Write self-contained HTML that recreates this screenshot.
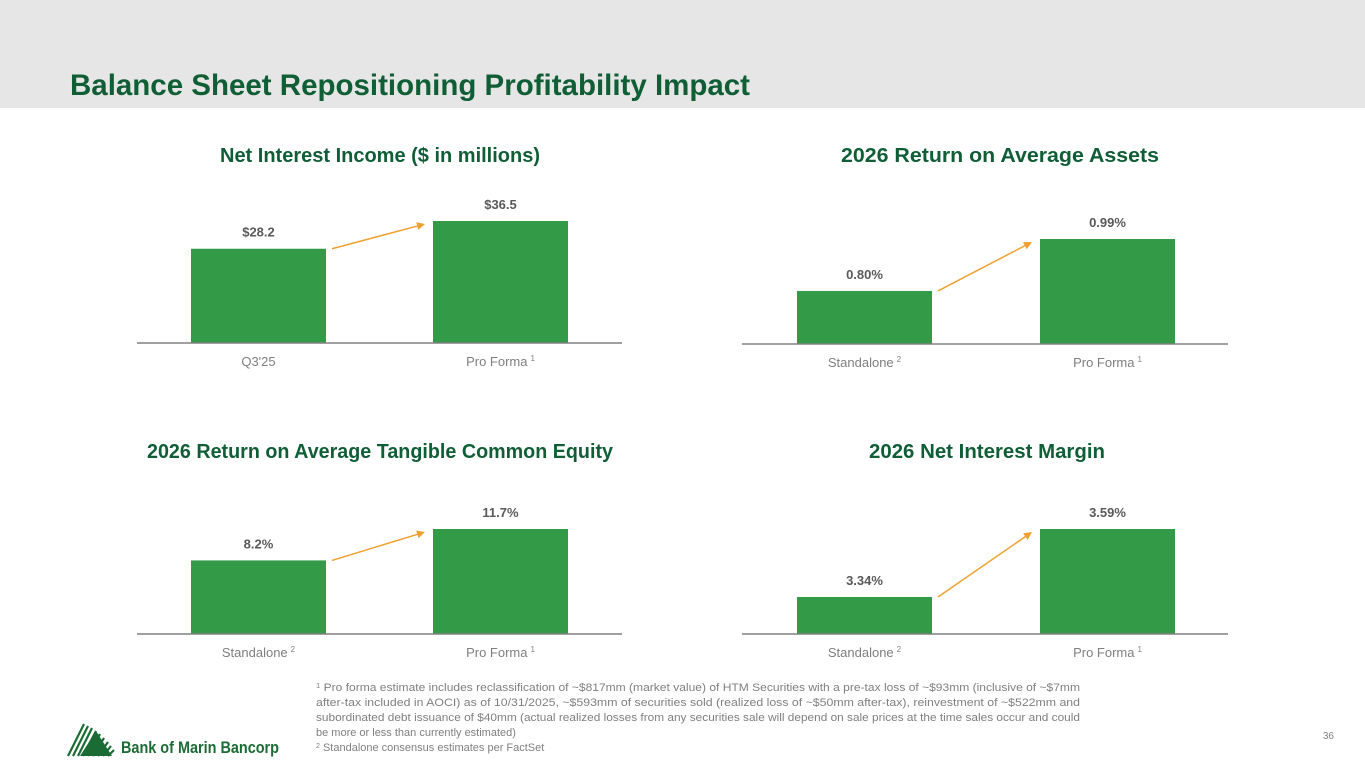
<!DOCTYPE html>
<html><head><meta charset="utf-8"><style>
html,body{margin:0;padding:0;background:#fff;}
svg{display:block;font-family:"Liberation Sans",sans-serif;}
</style></head><body>
<svg id="page" width="1365" height="768" viewBox="0 0 1365 768">
<rect x="0" y="0" width="1365" height="108" fill="#e6e6e6"/>
<text x="70" y="95" font-size="30" font-weight="bold" fill="#0f5e36" textLength="680" lengthAdjust="spacingAndGlyphs">Balance Sheet Repositioning Profitability Impact</text>
<g id="charts"></g>
<g font-size="11" fill="#7f7f7f">
<text x="316" y="691" textLength="764" lengthAdjust="spacingAndGlyphs"><tspan font-size="7" dy="-3">1</tspan><tspan dy="3"> Pro forma estimate includes reclassification of ~$817mm (market value) of HTM Securities with a pre-tax loss of ~$93mm (inclusive of ~$7mm</tspan></text>
<text x="316" y="706" textLength="764" lengthAdjust="spacingAndGlyphs">after-tax included in AOCI) as of 10/31/2025, ~$593mm of securities sold (realized loss of ~$50mm after-tax), reinvestment of ~$522mm and</text>
<text x="316" y="721" textLength="764" lengthAdjust="spacingAndGlyphs">subordinated debt issuance of $40mm (actual realized losses from any securities sale will depend on sale prices at the time sales occur and could</text>
<text x="316" y="736">be more or less than currently estimated)</text>
<text x="316" y="751"><tspan font-size="7" dy="-3">2</tspan><tspan dy="3"> Standalone consensus estimates per FactSet</tspan></text>
</g>
<text x="1334" y="739" font-size="10" fill="#7f7f7f" text-anchor="end">36</text>
<g>
<g stroke="#1b6b35" stroke-width="2.2">
<line x1="68" y1="756" x2="84" y2="724"/><line x1="73" y1="756" x2="88" y2="726"/><line x1="78" y1="756" x2="92" y2="728"/>
<line x1="83" y1="756" x2="96" y2="731"/><line x1="88" y1="756" x2="100" y2="734"/><line x1="93" y1="756" x2="104" y2="738"/>
<line x1="98" y1="756" x2="108" y2="742"/><line x1="103" y1="756" x2="111" y2="746"/><line x1="108" y1="756" x2="114" y2="750"/>
</g>
<polygon points="80,756 96,731 112,756" fill="#1b6b35"/>
<text x="121" y="753" font-size="17" font-weight="bold" fill="#1b6b35" textLength="158" lengthAdjust="spacingAndGlyphs">Bank of Marin Bancorp</text>
</g>
</svg>
<script>
// Chart data
const chartTitles = ["Net Interest Income ($ in millions)", "2026 Return on Average Assets", "2026 Return on Average Tangible Common Equity", "2026 Net Interest Margin"];
const categoriesA = ["Q3'25", "Pro Forma"];
const categoriesB = ["Standalone", "Pro Forma"];
const niiValues = [28.2, 36.5];
const roaaValues = [0.80, 0.99];
const rotceValues = [8.2, 11.7];
const nimValues = [3.34, 3.59];
const niiLabels = ["$28.2", "$36.5"];
const roaaLabels = ["0.80%", "0.99%"];
const rotceLabels = ["8.2%", "11.7%"];
const nimLabels = ["3.34%", "3.59%"];
const superscripts = [["", "1"], ["2", "1"], ["2", "1"], ["2", "1"]];
const axisMins = [0, 0.606, 0, 3.204];

const NS = "http://www.w3.org/2000/svg";
const root = document.getElementById("charts");
function mk(tag, attrs, parent){const e=document.createElementNS(NS,tag);for(const k in attrs)e.setAttribute(k,attrs[k]);parent.appendChild(e);return e;}

const layouts = [
 {cx:380, titleY:162, axisY:343, x0:137, x1:622, bx:[191,433], ty:[370,370], tw:[288,300]},
 {cx:1000, titleY:162, axisY:344, x0:742, x1:1228, bx:[797,1040], ty:[370,370], tw:[288,300]},
 {cx:380, titleY:458, axisY:634, x0:137, x1:622, bx:[191,433], ty:[660,660], tw:[430,300]},
 {cx:987, titleY:458, axisY:634, x0:742, x1:1228, bx:[797,1040], ty:[660,660], tw:[236,300]}
];
const seriesAll = [niiValues, roaaValues, rotceValues, nimValues];
const labelsAll = [niiLabels, roaaLabels, rotceLabels, nimLabels];
const catsAll = [categoriesA, categoriesB, categoriesB, categoriesB];
const titleW = [320, 318, 466, 236];
const maxBarH = 122;

seriesAll.forEach((vals, ci) => {
  const L = layouts[ci];
  const g = mk("g", {}, root);
  
  
  const vmax = Math.max(...vals);
  const bh = (ci===1 || ci===3) ? 105 : (ci===2 ? 105 : maxBarH);
  const yScale = v => L.axisY - (v - axisMins[ci]) / (vmax - axisMins[ci]) * bh;
  const t = mk("text", {x:L.cx, y:L.titleY, "font-size":20, "font-weight":"bold", fill:"#0f5e36", "text-anchor":"middle", textLength:titleW[ci], lengthAdjust:"spacingAndGlyphs"}, g);
  t.textContent = chartTitles[ci];
  
  
  const tops = [];
  vals.forEach((v, i) => {
    const x = L.bx[i], w = 135, y = yScale(v);
    tops.push(y);
    const r = mk("rect", {x:x, y:y, width:w, height:L.axisY - y, fill:"#339a48"}, g);
    
    
    const lb = mk("text", {x:x + w/2, y:y - 12, "font-size":13, "font-weight":"bold", fill:"#595959", "text-anchor":"middle"}, g);
    lb.textContent = labelsAll[ci][i];
    
    
    const cl = mk("text", {x:x + w/2, y:L.axisY + 23, "font-size":13, fill:"#7f7f7f", "text-anchor":"middle"}, g);
    cl.textContent = catsAll[ci][i];
    const sup = superscripts[ci][i];
    if (sup) { const s = mk("tspan", {"font-size":8, dy:-5, dx:3}, cl); s.textContent = sup; }
    
    
  });
  const ax = mk("line", {x1:L.x0, x2:L.x1, y1:L.axisY, y2:L.axisY, stroke:"#808080", "stroke-width":1.5}, g);
  
  
  // arrow from first bar top to second bar top
  const ax1 = L.bx[0] + 141, ay1 = tops[0];
  const ax2 = L.bx[1] - 8, ay2 = tops[1] + 3;
  const ang = Math.atan2(ay2 - ay1, ax2 - ax1);
  const ag = mk("g", {}, g);
  
  
  mk("line", {x1:ax1, y1:ay1, x2:ax2 - 7*Math.cos(ang), y2:ay2 - 7*Math.sin(ang), stroke:"#f0a030", "stroke-width":1.5}, ag);
  const hx = ax2, hy = ay2, s = 8;
  const p1 = [hx - s*Math.cos(ang) + 4*Math.sin(ang), hy - s*Math.sin(ang) - 4*Math.cos(ang)];
  const p2 = [hx - s*Math.cos(ang) - 4*Math.sin(ang), hy - s*Math.sin(ang) + 4*Math.cos(ang)];
  mk("polygon", {points: hx+","+hy+" "+p1.join(",")+" "+p2.join(","), fill:"#f0a030"}, ag);
});
</script>
</body></html>
